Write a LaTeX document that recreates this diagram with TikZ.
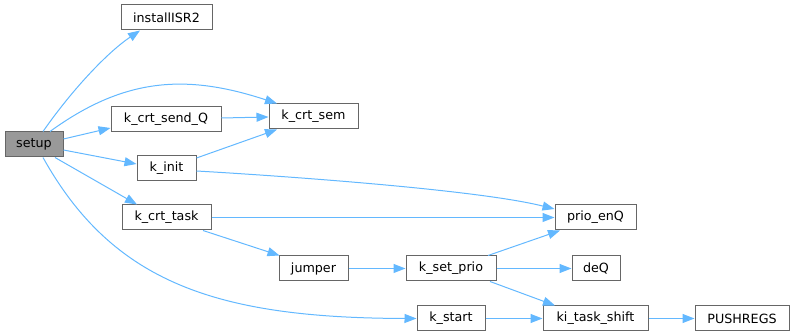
\documentclass[tikz,border=0pt]{standalone}
\usepackage{fontspec}
\setmainfont{DejaVu Sans}
\usetikzlibrary{arrows.meta}
\definecolor{edgeblue}{HTML}{63B8FF}
\definecolor{boxborder}{HTML}{666666}
\definecolor{boxgray}{HTML}{999999}
\tikzset{
  fn/.style={draw=boxborder, line width=1pt, fill=white, rectangle, inner sep=0pt,
    minimum height=25pt, font=\fontsize{12.7}{14}\selectfont, text=black},
  cur/.style={fn, fill=boxgray},
  call/.style={draw=edgeblue, line width=1pt, -{Triangle[length=12pt,width=9pt]}}
}
\begin{document}
\begin{tikzpicture}[x=1pt,y=-1pt]
\path[use as bounding box] (0,0) rectangle (795,336);
\node[cur, minimum width=58pt] (setup) at (34,144.5) {setup};
\node[fn, minimum width=91pt] (installISR2) at (166.5,17.5) {installISR2};
\node[fn, minimum width=110pt] (sendQ) at (166,119.5) {k\_crt\_send\_Q};
\node[fn, minimum width=89pt] (sem) at (313.5,116.5) {k\_crt\_sem};
\node[fn, minimum width=59pt] (init) at (166.5,168) {k\_init};
\node[fn, minimum width=89pt] (task) at (166.5,217.5) {k\_crt\_task};
\node[fn, minimum width=69pt] (jumper) at (313.5,268.5) {jumper};
\node[fn, minimum width=81pt] (prio) at (595.5,217.5) {prio\_enQ};
\node[fn, minimum width=90pt] (setprio) at (451,268.5) {k\_set\_prio};
\node[fn, minimum width=48pt] (deQ) at (596,268.5) {deQ};
\node[fn, minimum width=68pt] (start) at (451,318.5) {k\_start};
\node[fn, minimum width=105pt] (shift) at (595.5,318.5) {ki\_task\_shift};
\node[fn, minimum width=94pt] (push) at (742,318.5) {PUSHREGS};

\draw[call] ([xshift=9pt]setup.north) .. controls (73,88.5) and (108,52) .. ([xshift=-26.5pt]installISR2.south);
\draw[call] ([xshift=16pt]setup.north) .. controls (125,77) and (187,74) .. ([xshift=-36.5pt]sem.north);
\draw[call] ([yshift=5.5pt]setup.east) -- ([yshift=-8.5pt]sendQ.west);
\draw[call] ([yshift=1.5pt]sendQ.east) -- ([yshift=-0.5pt]sem.west);
\draw[call] ([yshift=-3pt]init.north east) -- ([xshift=-36.5pt]sem.south);
\draw[call] ([yshift=-5.5pt]setup.east) -- ([yshift=4pt]init.west);
\draw[call] ([yshift=-3pt]init.east) .. controls (267,175) and (475,189) .. ([yshift=8.5pt]prio.west);
\draw[call] ([xshift=21pt]setup.south) -- ([xshift=-29.5pt]task.north);
\draw[call] ([xshift=9pt]setup.south) .. controls (113,283) and (217,318) .. (start.west);
\draw[call] (task.east) -- (prio.west);
\draw[call] ([xshift=36.5pt]task.south) -- ([xshift=1pt]jumper.north west);
\draw[call] (jumper.east) -- (setprio.west);
\draw[call] ([xshift=37pt]setprio.north) -- ([xshift=-35.5pt]prio.south);
\draw[call] (setprio.east) -- (deQ.west);
\draw[call] ([xshift=39pt]setprio.south) -- ([xshift=-40.5pt]shift.north);
\draw[call] (start.east) -- (shift.west);
\draw[call] (shift.east) -- (push.west);
\end{tikzpicture}
\end{document}
